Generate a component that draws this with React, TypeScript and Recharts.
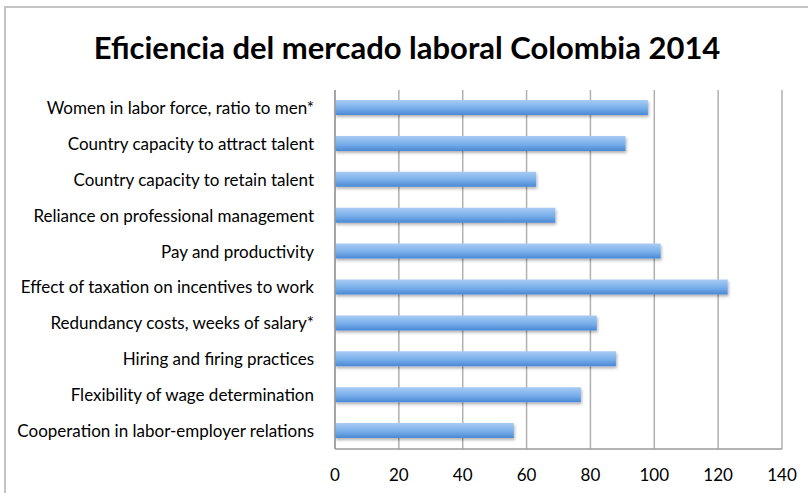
import { Bar, BarChart, CartesianGrid, XAxis, YAxis } from "recharts"

const categories = [
    "Women in labor force, ratio to men*",
    "Country capacity to attract talent",
    "Country capacity to retain talent",
    "Reliance on professional management",
    "Pay and productivity",
    "Effect of taxation on incentives to work",
    "Redundancy costs, weeks of salary*",
    "Hiring and firing practices",
    "Flexibility of wage determination",
    "Cooperation in labor-employer relations",
]

const values = [98, 91, 63, 69, 102, 123, 82, 88, 77, 56]

const xTicks = [0, 20, 40, 60, 80, 100, 120, 140]

const data = categories.map((name, i) => ({ name, value: values[i] }))

const font = "Lato, 'Open Sans', sans-serif"

export default function App() {
    return (
        <div style={{ position: "absolute", left: 0, top: 0, width: 808, height: 493, background: "#fff", overflow: "hidden" }}>
            <div
                style={{
                    position: "absolute",
                    left: 4,
                    top: 6,
                    width: 820,
                    height: 500,
                    border: "2px solid #c4c4c4",
                    boxSizing: "border-box",
                }}
            />
            <div
                style={{
                    position: "absolute",
                    left: 0,
                    top: 28,
                    width: 814,
                    textAlign: "center",
                    fontFamily: font,
                    fontWeight: 700,
                    fontSize: 31,
                    color: "#000",
                }}
            >
                Eficiencia del mercado laboral Colombia 2014
            </div>
            <BarChart
                width={808}
                height={493}
                data={data}
                layout="vertical"
                margin={{ top: 90, right: 26, bottom: 14, left: 0 }}
                style={{ position: "absolute", left: 0, top: 0 }}
            >
                <defs>
                    <linearGradient id="barFill" x1="0" y1="0" x2="0" y2="1">
                        <stop offset="0%" stopColor="#a8cbf4" />
                        <stop offset="55%" stopColor="#78aeea" />
                        <stop offset="100%" stopColor="#4a88d6" />
                    </linearGradient>
                    <filter id="barShadow" x="-5%" y="-30%" width="110%" height="180%">
                        <feDropShadow dx="1" dy="2" stdDeviation="1.5" floodColor="#000" floodOpacity="0.3" />
                    </filter>
                </defs>
                <CartesianGrid horizontal={false} stroke="#b0b0b0" strokeWidth={1.5} />
                <XAxis
                    type="number"
                    domain={[0, 140]}
                    ticks={xTicks}
                    interval={0}
                    height={30}
                    tickLine={false}
                    axisLine={{ stroke: "#9a9a9a", strokeWidth: 1.5 }}
                    tick={{ fill: "#000", fontSize: 17, fontFamily: font }}
                    tickMargin={14}
                />
                <YAxis
                    type="category"
                    dataKey="name"
                    width={335}
                    tickLine={false}
                    tickSize={0}
                    tickMargin={21}
                    axisLine={{ stroke: "#9a9a9a", strokeWidth: 1.5 }}
                    tick={{ fill: "#000", fontSize: 17, fontFamily: font }}
                    interval={0}
                />
                <Bar
                    dataKey="value"
                    fill="url(#barFill)"
                    filter="url(#barShadow)"
                    barSize={15}
                    isAnimationActive={false}
                />
            </BarChart>
        </div>
    )
}
